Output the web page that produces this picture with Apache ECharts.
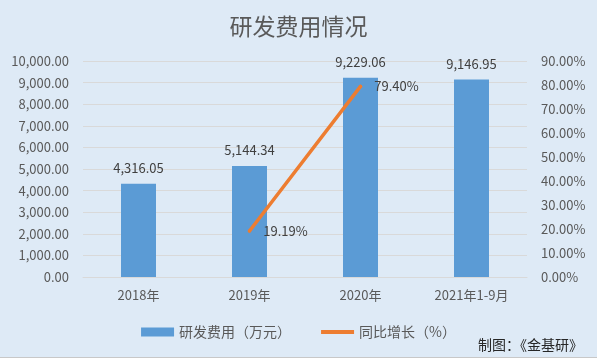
<!DOCTYPE html>
<html><head><meta charset="utf-8">
<script src="https://cdn.jsdelivr.net/npm/echarts@6/dist/echarts.min.js"></script>
<style>html,body{margin:0;padding:0;background:#DEEAF6;}#c{width:597px;height:358px;box-sizing:border-box;border-bottom:1px solid #C8C8C8;}</style>
</head><body><div id="c"></div>
<script>
var categories = ['2018年', '2019年', '2020年', '2021年1-9月'];
var rdExpense = [4316.05, 5144.34, 9229.06, 9146.95];
var yoyGrowth = [null, 19.19, 79.40, null];
var leftTicks = {min: 0, max: 10000, interval: 1000};
var rightTicks = {min: 0, max: 90, interval: 10};
var titleText = '研发费用情况';
var seriesNames = ['研发费用（万元）', '同比增长（%）'];
var noteText = '制图：《金基研》';

var FONT = '"Noto Sans CJK SC", "Noto Sans", sans-serif';
function fmt(v) {
  return Number(v).toFixed(2).replace(/\B(?=(\d{3})+(?!\d))/g, ',');
}
var chart = echarts.init(document.getElementById('c'));
chart.setOption({
  backgroundColor: '#DEEAF6',
  animation: false,
  textStyle: {fontFamily: FONT},
  title: {text: titleText, left: 'center', top: 10,
    textStyle: {fontSize: 23, fontWeight: 'normal', color: '#595959', fontFamily: FONT}},
  grid: {left: 83, right: 70, top: 61, bottom: 80},
  legend: {
    bottom: 13, left: 'center', itemGap: 30, itemWidth: 33, itemHeight: 9,
    textStyle: {fontSize: 14, color: '#595959', fontFamily: FONT},
    data: [{name: seriesNames[0], icon: 'rect'},
           {name: seriesNames[1], icon: 'path://M0,0 L34,0 L34,4 L0,4 Z', itemStyle: {color: '#ED7D31', opacity: 1}}]
  },
  graphic: [{type: 'text', right: 14, bottom: 5,
    style: {text: noteText, font: '14px ' + FONT, fill: '#262626'}}],
  xAxis: {type: 'category', data: categories,
    axisLine: {show: true, lineStyle: {color: '#D9D9D9'}},
    axisTick: {show: false},
    axisLabel: {fontSize: 13, color: '#595959', margin: 12}},
  yAxis: [
    {type: 'value', min: leftTicks.min, max: leftTicks.max, interval: leftTicks.interval,
      axisLabel: {fontSize: 13, color: '#595959', formatter: fmt, margin: 14},
      splitLine: {lineStyle: {color: '#D9D9D9'}}, axisLine: {show: false}, axisTick: {show: false}},
    {type: 'value', min: rightTicks.min, max: rightTicks.max, interval: rightTicks.interval,
      axisLabel: {fontSize: 13, color: '#595959', formatter: function (v) { return v.toFixed(2) + '%'; }, margin: 14},
      splitLine: {show: false}, axisLine: {show: false}, axisTick: {show: false}}
  ],
  series: [
    {name: seriesNames[0], type: 'bar', data: rdExpense, barWidth: 35,
      itemStyle: {color: '#5B9BD5'},
      label: {show: true, position: 'top', distance: 9, fontSize: 13, color: '#404040',
        formatter: function (p) { return fmt(p.value); }}},
    {name: seriesNames[1], type: 'line', yAxisIndex: 1, data: yoyGrowth,
      symbol: 'circle', symbolSize: 3.5, showSymbol: true, showAllSymbol: true, connectNulls: false,
      lineStyle: {color: '#ED7D31', width: 3.5, cap: 'round'},
      itemStyle: {color: '#ED7D31', borderWidth: 0},
      label: {show: true, position: 'right', distance: 12, fontSize: 13, color: '#404040',
        formatter: function (p) { return p.value.toFixed(2) + '%'; }},
      labelLayout: {hideOverlap: false}
      }
  ]
});
</script></body></html>
